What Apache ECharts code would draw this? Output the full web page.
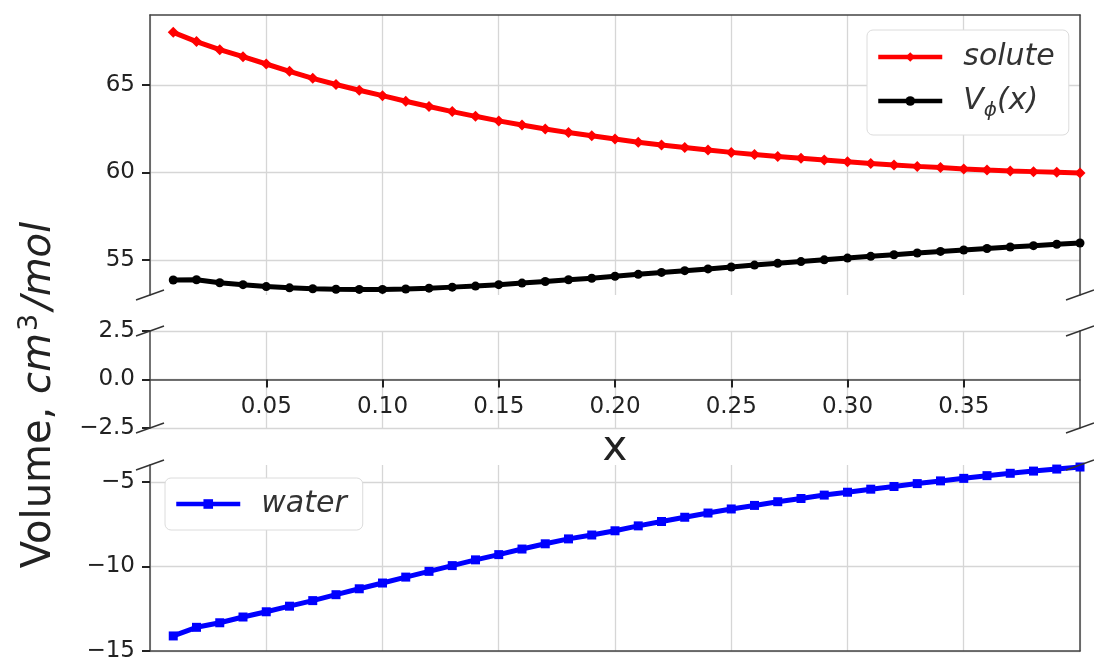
<!DOCTYPE html>
<html>
<head>
<meta charset="utf-8">
<script src="https://cdn.jsdelivr.net/npm/echarts@6/dist/echarts.min.js"></script>
<style>
html, body { margin: 0; padding: 0; background: #fff; }
#chart { width: 1094px; height: 660px; }
</style>
</head>
<body>
<div id="chart"></div>
<script>
// mole fraction
var xs = [0.01, 0.02, 0.03, 0.04, 0.05, 0.06, 0.07, 0.08, 0.09, 0.10,
  0.11, 0.12, 0.13, 0.14, 0.15, 0.16, 0.17, 0.18, 0.19, 0.20,
  0.21, 0.22, 0.23, 0.24, 0.25, 0.26, 0.27, 0.28, 0.29, 0.30,
  0.31, 0.32, 0.33, 0.34, 0.35, 0.36, 0.37, 0.38, 0.39, 0.40];
var solute = [68.01, 67.48, 67.02, 66.62, 66.20, 65.78, 65.38, 65.03, 64.70, 64.39,
  64.07, 63.77, 63.48, 63.21, 62.95, 62.71, 62.49, 62.28, 62.10, 61.91,
  61.73, 61.57, 61.43, 61.29, 61.15, 61.03, 60.92, 60.81, 60.71, 60.62,
  60.52, 60.43, 60.35, 60.28, 60.20, 60.14, 60.09, 60.05, 60.01, 59.97];
var vphi = [53.86, 53.87, 53.70, 53.59, 53.48, 53.41, 53.36, 53.33, 53.32, 53.32,
  53.34, 53.39, 53.45, 53.51, 53.59, 53.68, 53.77, 53.87, 53.96, 54.07,
  54.18, 54.29, 54.39, 54.49, 54.60, 54.71, 54.81, 54.91, 55.01, 55.11,
  55.21, 55.30, 55.40, 55.49, 55.57, 55.66, 55.74, 55.82, 55.90, 55.97];
var water = [-14.11, -13.60, -13.33, -12.99, -12.68, -12.35, -12.02, -11.67, -11.32, -10.98,
  -10.63, -10.29, -9.95, -9.61, -9.30, -8.97, -8.66, -8.37, -8.14, -7.89,
  -7.60, -7.34, -7.09, -6.84, -6.60, -6.39, -6.17, -5.98, -5.78, -5.61,
  -5.43, -5.27, -5.10, -4.94, -4.79, -4.63, -4.49, -4.36, -4.24, -4.12];

var xTicks = [0.05, 0.10, 0.15, 0.20, 0.25, 0.30, 0.35];
var topTicks = [55, 60, 65];
var midTicks = [-2.5, 0, 2.5];
var lowTicks = [-15, -10, -5];

function pairs(ys) {
  return xs.map(function (x, i) { return [x, ys[i]]; });
}
function minus(s) { return String(s).replace('-', '\u2212'); }

var font = 'DejaVu Sans';
var spine = { show: true, onZero: false, lineStyle: { color: '#444', width: 1.5 } };
var gridLine = { show: true, lineStyle: { color: '#d6d6d6', width: 1.3 } };
var noAxis = { axisLine: { show: false }, axisTick: { show: false }, axisLabel: { show: false }, splitLine: { show: false } };

var L = 150, R = 1080;
var grids = [
  { left: L, top: 15, width: R - L, height: 280, outerBoundsMode: 'none' },
  { left: L, top: 331, width: R - L, height: 97, outerBoundsMode: 'none' },
  { left: L, top: 465, width: R - L, height: 186, outerBoundsMode: 'none' }
];

function xMain(g, withLabels) {
  return {
    type: 'value', gridIndex: g, min: 0, max: 0.4, interval: 0.05,
    axisLine: withLabels ? spine : { show: false },
    axisTick: withLabels ? { show: true, length: 8, lineStyle: { color: '#222', width: 2 }, customValues: xTicks } : { show: false },
    axisLabel: withLabels ? {
      show: true, customValues: xTicks, margin: 16, fontFamily: font, fontSize: 23, color: '#222',
      formatter: function (v) { return v.toFixed(2); }
    } : { show: false },
    splitLine: gridLine,
    name: withLabels ? 'x' : '',
    nameLocation: 'middle', nameGap: 49,
    nameTextStyle: { fontFamily: font, fontSize: 42, color: '#222' }
  };
}
function yLeft(g, min, max, ticks, fmt) {
  return {
    type: 'value', gridIndex: g, min: min, max: max, position: 'left',
    axisLine: spine,
    axisTick: { show: true, length: 8, lineStyle: { color: '#222', width: 2 }, customValues: ticks },
    axisLabel: { show: true, customValues: ticks, margin: 15, fontFamily: font, fontSize: 23, color: '#222', formatter: fmt },
    splitLine: gridLine
  };
}
function yRight(g, min, max) {
  return Object.assign({ type: 'value', gridIndex: g, min: min, max: max, position: 'right' }, noAxis, { axisLine: spine });
}

// the middle x axis sits on y = 0, halfway up its 97px panel
var xMid = xMain(1, true);
xMid.offset = -48.5;

var xAxes = [
  xMain(0, false),
  xMid,
  Object.assign(xMain(2, false), { axisLine: spine }),
  Object.assign({ type: 'value', gridIndex: 0, min: 0, max: 0.4, position: 'top' }, noAxis, { axisLine: spine })
];
var yAxes = [
  yLeft(0, 53, 69, topTicks, function (v) { return String(v); }),
  yLeft(1, -2.5, 2.5, midTicks, function (v) { return minus(v.toFixed(1)); }),
  yLeft(2, -15, -4, lowTicks, function (v) { return minus(v); }),
  yRight(0, 53, 69),
  yRight(1, -2.5, 2.5),
  yRight(2, -15, -4)
];

// diagonal break marks at the cut edges of the panels
var cuts = [295, 331, 428, 465];
var marks = [];
cuts.forEach(function (y) {
  [L, R].forEach(function (x) {
    marks.push({
      type: 'line', shape: { x1: x - 14, y1: y + 5, x2: x + 14, y2: y - 5 },
      style: { stroke: '#333', lineWidth: 1.5 }, z: 10
    });
  });
});
marks.push({
  type: 'text', x: 40, y: 395, rotation: Math.PI / 2, z: 10,
  style: {
    text: '{n|Volume, }{i|cm}{s|3}{i|/mol}',
    fontFamily: font, fontSize: 40,
    align: 'center', verticalAlign: 'middle', fill: '#222',
    rich: {
      n: { fontFamily: font, fontSize: 40, lineHeight: 48, fill: '#222' },
      i: { fontFamily: font, fontSize: 40, lineHeight: 48, fontStyle: 'italic', fill: '#222' },
      s: { fontFamily: font, fontSize: 27, lineHeight: 27, verticalAlign: 'top', padding: [0, 4, 0, 2], fill: '#222' }
    }
  }
});

var legendText = {
  fontFamily: font, fontSize: 30, fontStyle: 'italic', color: '#333', padding: [0, 0, 0, 16],
  rich: {
    v: { fontFamily: font, fontSize: 30, fontStyle: 'italic', color: '#333' },
    s: { fontFamily: font, fontSize: 20, fontStyle: 'italic', color: '#333', verticalAlign: 'bottom', lineHeight: 40 }
  }
};
var legendBox = {
  orient: 'vertical', backgroundColor: '#fff', borderColor: '#dcdcdc', borderWidth: 1, borderRadius: 6,
  itemWidth: 64, itemHeight: 12, textStyle: legendText,
  lineStyle: { width: 4.5 },
  formatter: function (name) {
    if (name === 'Vϕ(x)') return '{v|V}{s|ϕ}{v|(x)}';
    return name;
  }
};

var option = {
  animation: false,
  backgroundColor: '#fff',
  grid: grids,
  xAxis: xAxes,
  yAxis: yAxes,
  legend: [
    Object.assign({ data: ['solute', 'Vϕ(x)'], left: 867, top: 30, padding: [12, 14, 14, 9], itemGap: 14 }, legendBox),
    Object.assign({ data: ['water'], left: 165, top: 478, padding: [11, 16, 11, 9] }, legendBox)
  ],
  graphic: marks,
  series: [
    {
      name: 'solute', type: 'line', xAxisIndex: 0, yAxisIndex: 0, data: pairs(solute),
      symbol: 'diamond', symbolSize: 11, color: '#ff0000',
      lineStyle: { width: 5, color: '#ff0000' }, itemStyle: { color: '#ff0000' }
    },
    {
      name: 'Vϕ(x)', type: 'line', xAxisIndex: 0, yAxisIndex: 0, data: pairs(vphi),
      symbol: 'circle', symbolSize: 9, color: '#000',
      lineStyle: { width: 5, color: '#000' }, itemStyle: { color: '#000' }
    },
    {
      name: 'water', type: 'line', xAxisIndex: 2, yAxisIndex: 2, data: pairs(water),
      symbol: 'rect', symbolSize: 9, color: '#0000ff',
      lineStyle: { width: 5, color: '#0000ff' }, itemStyle: { color: '#0000ff' }
    }
  ]
};

var myChart = echarts.init(document.getElementById('chart'));
myChart.setOption(option);
</script>
</body>
</html>
